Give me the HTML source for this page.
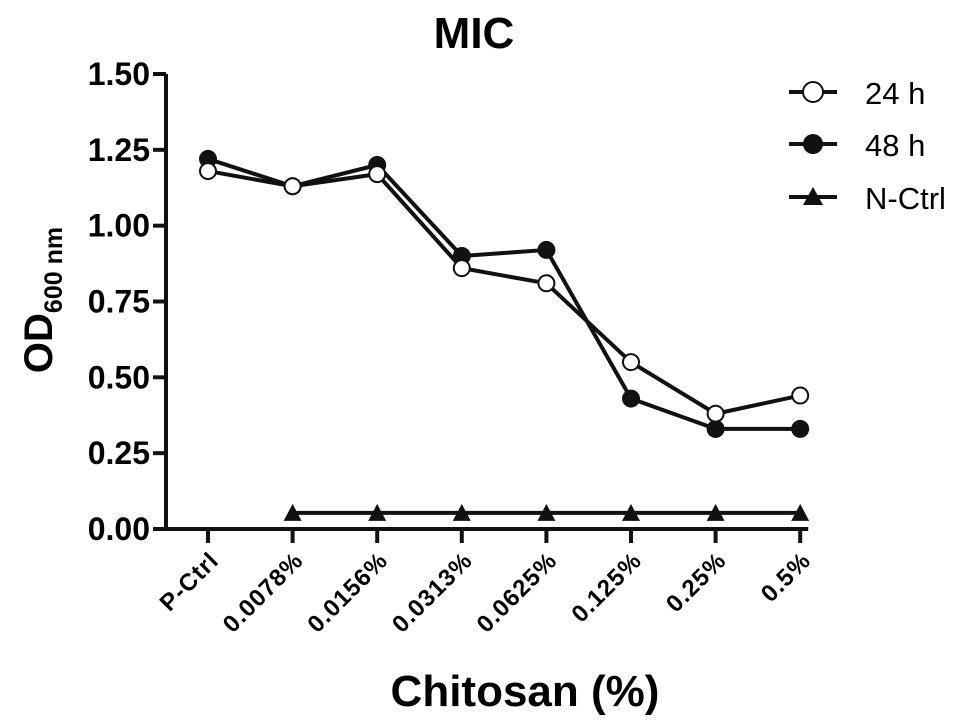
<!DOCTYPE html>
<html><head><meta charset="utf-8">
<style>
html,body{margin:0;padding:0;background:#fff;}
svg{display:block;font-family:"Liberation Sans",Arial,sans-serif;}
</style></head>
<body>
<svg id="chart" width="969" height="725" viewBox="0 0 969 725">
<text x="474" y="48" text-anchor="middle" font-size="44" font-weight="bold">MIC</text>
<text x="525" y="706" text-anchor="middle" font-size="44" font-weight="bold">Chitosan (%)</text>
<text transform="translate(52,300) rotate(-90)" text-anchor="middle" font-size="40" font-weight="bold">OD<tspan font-size="25" dy="10">600 nm</tspan></text>
<g id="axes"></g>
<g id="series"></g>
<g id="legend">
  <g>
    <line x1="789" y1="92" x2="837" y2="92" stroke="#111" stroke-width="4"/>
    <circle cx="813" cy="92" r="10" fill="#fff" stroke="#111" stroke-width="2"/>
    <text x="865" y="104" font-size="31">24 h</text>
  </g>
  <g>
    <line x1="789" y1="144" x2="837" y2="144" stroke="#111" stroke-width="4"/>
    <circle cx="813" cy="144" r="10" fill="#111"/>
    <text x="865" y="156" font-size="31">48 h</text>
  </g>
  <g>
    <line x1="789" y1="197" x2="837" y2="197" stroke="#111" stroke-width="4"/>
    <polygon points="813,187 803,205 823,205" fill="#111"/>
    <text x="865" y="209" font-size="31">N-Ctrl</text>
  </g>
</g>
</svg>
<script>
const categories = ["P-Ctrl","0.0078%","0.0156%","0.0313%","0.0625%","0.125%","0.25%","0.5%"];
const series24h = [1.18,1.13,1.17,0.86,0.81,0.55,0.38,0.44];
const series48h = [1.22,1.13,1.20,0.90,0.92,0.43,0.33,0.33];
const seriesNCtrl = [null,0.053,0.053,0.053,0.053,0.053,0.053,0.053];
const yTicks = [0,0.25,0.5,0.75,1.0,1.25,1.5];
const yTickLabels = ["0.00","0.25","0.50","0.75","1.00","1.25","1.50"];

const NS="http://www.w3.org/2000/svg";
const x0=208, dx=84.6, yBase=529, yTop=74, yMax=1.5;
function xs(i){return x0+i*dx;}
function ys(v){return yBase-(v/yMax)*(yBase-yTop);}
function mk(tag,attrs,parent){const e=document.createElementNS(NS,tag);for(const k in attrs)e.setAttribute(k,attrs[k]);parent.appendChild(e);return e;}

const axes=document.getElementById('axes');
let yl=mk('line',{x1:166,y1:yTop,x2:166,y2:yBase+2,stroke:'#111','stroke-width':4},axes);


let xl=mk('line',{x1:153,y1:yBase,x2:xs(categories.length-1)+8,y2:yBase,stroke:'#111','stroke-width':4},axes);


yTicks.forEach((v,i)=>{
  const y=ys(v);
  let t=mk('line',{x1:153,y1:y,x2:166,y2:y,stroke:'#111','stroke-width':4},axes);
  
  
  let l=mk('text',{x:150,y:y+11,'text-anchor':'end','font-size':32,'font-weight':'bold'},axes);
  l.textContent=yTickLabels[i];
  
  
});
categories.forEach((c,i)=>{
  const x=xs(i);
  let t=mk('line',{x1:x,y1:yBase,x2:x,y2:543,stroke:'#111','stroke-width':4},axes);
  
  
  let l=mk('text',{transform:`translate(${x+12},${562}) rotate(-45)`,'text-anchor':'end','font-size':24,'font-weight':'bold','letter-spacing':1},axes);
  l.textContent=c;
  
  
});

const g=document.getElementById('series');
function drawLine(vals,name){
  const pts=[];vals.forEach((v,i)=>{if(v!==null)pts.push(xs(i)+','+ys(v));});
  let p=mk('polyline',{points:pts.join(' '),fill:'none',stroke:'#111','stroke-width':4,'stroke-linejoin':'round'},g);
  
  
}
drawLine(series24h,'series-24h');
drawLine(series48h,'series-48h');
drawLine(seriesNCtrl,'series-nctrl');
series48h.forEach((v,i)=>{
  let c=mk('circle',{cx:xs(i),cy:ys(v),r:9,fill:'#111'},g);
  
  
});
series24h.forEach((v,i)=>{
  let c=mk('circle',{cx:xs(i),cy:ys(v),r:8,fill:'#fff',stroke:'#111','stroke-width':2},g);
  
  
});
seriesNCtrl.forEach((v,i)=>{
  if(v===null)return;
  const x=xs(i),y=ys(v);
  let p=mk('polygon',{points:`${x},${y-9} ${x-9},${y+8} ${x+9},${y+8}`,fill:'#111'},g);
  
  
});
</script>
</body></html>
